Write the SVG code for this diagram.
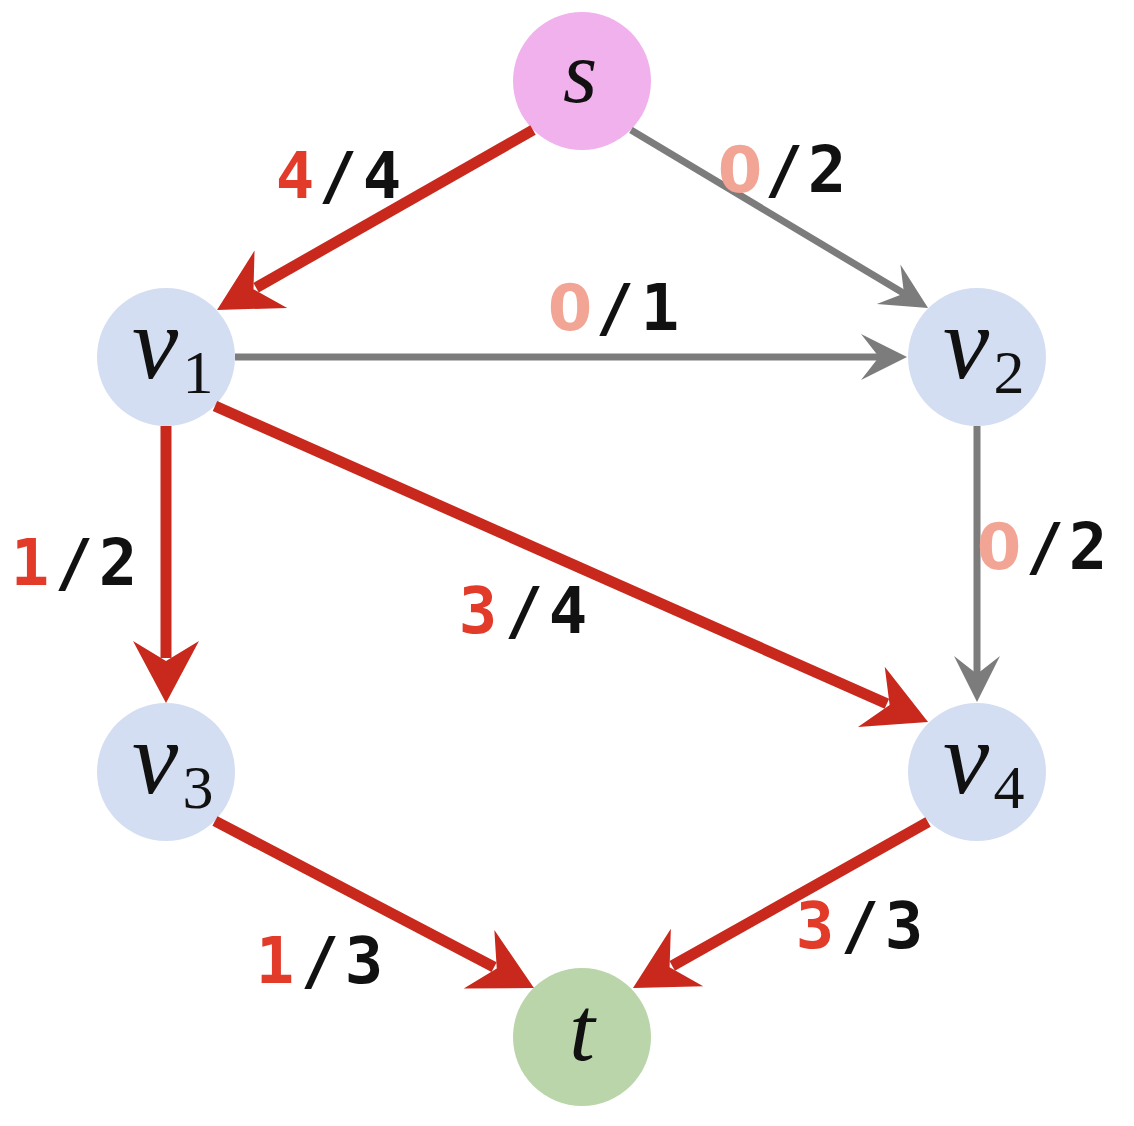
<svg xmlns="http://www.w3.org/2000/svg" width="1134" height="1126" viewBox="0 0 1134 1126">
<style>
.red{stroke:#C9281C;stroke-width:11;fill:none}
.gray{stroke:#7C7C7C;stroke-width:7;fill:none}
.nv{fill:#D4DEF2}
.lbl{font-family:"DejaVu Sans Mono",monospace;font-weight:bold;font-size:64px;text-anchor:middle}
.f{fill:#E23B2A}
.z{fill:#F2A594;font-family:"DejaVu Sans",sans-serif}
.k{fill:#111}
.math{font-family:"Liberation Serif",serif;font-style:italic;fill:#111;text-anchor:middle}
.sub{font-family:"Liberation Serif",serif;font-style:normal;font-size:62px}
</style>
<defs>
<marker id="ar" markerUnits="userSpaceOnUse" markerWidth="100" markerHeight="100" refX="0" refY="0" orient="auto" overflow="visible" viewBox="-50 -50 100 100">
<path d="M45,0 L-17,-33 L3,0 L-17,33 Z" fill="#C9281C"/>
</marker>
<marker id="ag" markerUnits="userSpaceOnUse" markerWidth="100" markerHeight="100" refX="0" refY="0" orient="auto" overflow="visible" viewBox="-50 -50 100 100">
<path d="M25,0 L-21,-23 L-3,0 L-21,23 Z" fill="#7C7C7C"/>
</marker>
</defs>
<rect width="1134" height="1126" fill="#ffffff"/>
<g id="node-s"><circle cx="582" cy="81" r="69" fill="#F0B1EC"/><text class="math" x="580" y="102" font-size="88">s</text></g>
<g id="node-v1"><circle class="nv" cx="166" cy="357" r="69"/><text class="math" font-size="104"><tspan x="155" y="378">v</tspan><tspan class="sub" x="198" y="393">1</tspan></text></g>
<g id="node-v2"><circle class="nv" cx="977" cy="357" r="69"/><text class="math" font-size="104"><tspan x="966" y="378">v</tspan><tspan class="sub" x="1009" y="393">2</tspan></text></g>
<g id="node-v3"><circle class="nv" cx="166" cy="772" r="69"/><text class="math" font-size="104"><tspan x="155" y="793">v</tspan><tspan class="sub" x="198" y="808">3</tspan></text></g>
<g id="node-v4"><circle class="nv" cx="977" cy="772" r="69"/><text class="math" font-size="104"><tspan x="966" y="793">v</tspan><tspan class="sub" x="1009" y="808">4</tspan></text></g>
<g id="node-t"><circle cx="582" cy="1037" r="69" fill="#BAD5AA"/><text class="math" x="582" y="1060" font-size="92">t</text></g>
<g id="edges">
<line class="red" x1="533" y1="130" x2="256.1" y2="287.7" marker-end="url(#ar)"/>
<line class="gray" x1="631" y1="130" x2="906.6" y2="295.1" marker-end="url(#ag)"/>
<line class="gray" x1="235" y1="357" x2="882" y2="357" marker-end="url(#ag)"/>
<line class="red" x1="166" y1="426" x2="166" y2="658" marker-end="url(#ar)"/>
<line class="red" x1="215" y1="406" x2="886.9" y2="703.8" marker-end="url(#ar)"/>
<line class="gray" x1="977" y1="426" x2="977" y2="677" marker-end="url(#ag)"/>
<line class="red" x1="215" y1="821" x2="494.1" y2="967.1" marker-end="url(#ar)"/>
<line class="red" x1="928" y1="822" x2="672.2" y2="965.9" marker-end="url(#ar)"/>
</g>
<g id="labels">
<text class="lbl"><tspan class="f" x="295" y="198">4</tspan><tspan class="k" x="338" y="198">/</tspan><tspan class="k" x="382" y="198">4</tspan></text>
<text class="lbl"><tspan class="z" x="740" y="192">0</tspan><tspan class="k" x="784" y="192">/</tspan><tspan class="k" x="827" y="192">2</tspan></text>
<text class="lbl"><tspan class="z" x="570" y="330">0</tspan><tspan class="k" x="615" y="330">/</tspan><tspan class="k" x="660" y="330">1</tspan></text>
<text class="lbl"><tspan class="f" x="30" y="585">1</tspan><tspan class="k" x="74" y="585">/</tspan><tspan class="k" x="118" y="585">2</tspan></text>
<text class="lbl"><tspan class="f" x="478" y="633">3</tspan><tspan class="k" x="524" y="633">/</tspan><tspan class="k" x="568" y="633">4</tspan></text>
<text class="lbl"><tspan class="z" x="999" y="569">0</tspan><tspan class="k" x="1045" y="569">/</tspan><tspan class="k" x="1088" y="569">2</tspan></text>
<text class="lbl"><tspan class="f" x="275" y="983">1</tspan><tspan class="k" x="320" y="983">/</tspan><tspan class="k" x="364" y="983">3</tspan></text>
<text class="lbl"><tspan class="f" x="815" y="948">3</tspan><tspan class="k" x="860" y="948">/</tspan><tspan class="k" x="904" y="948">3</tspan></text>
</g>
</svg>
